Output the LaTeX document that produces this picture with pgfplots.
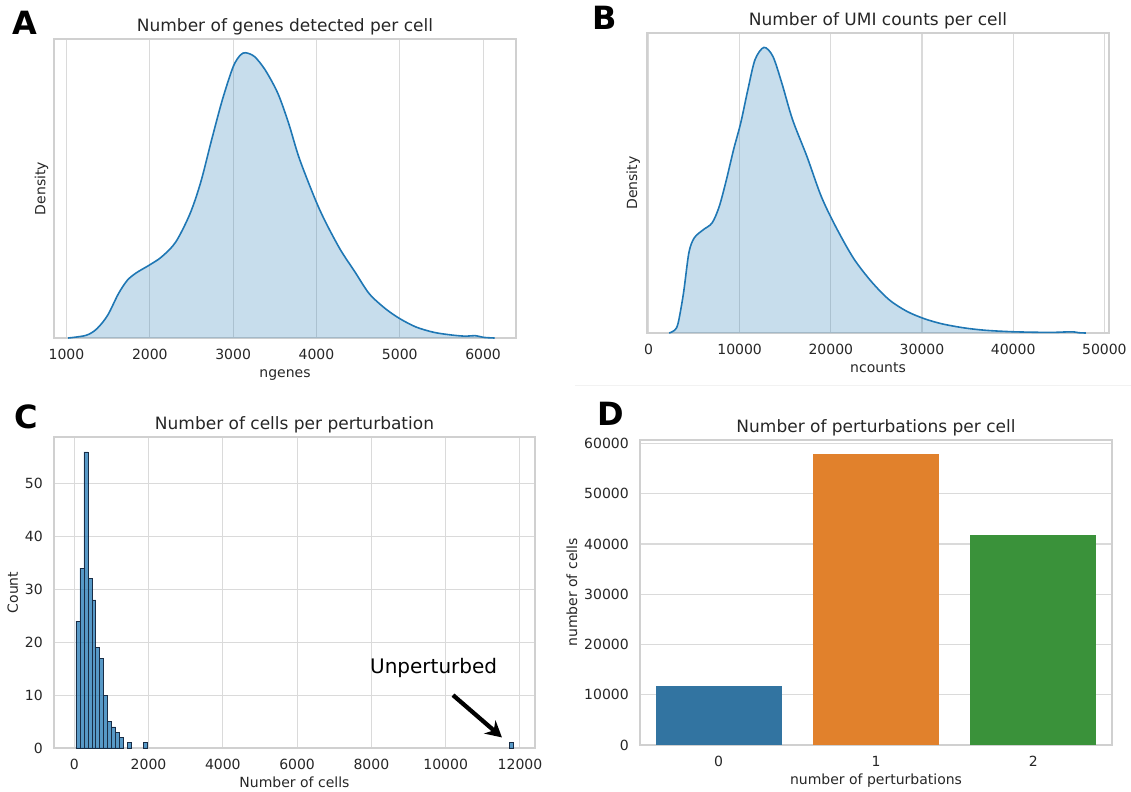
\documentclass[border=0pt]{standalone}
\usepackage{fontspec}
\setmainfont{DejaVu Sans}
\usepackage{pgfplots}
\usepackage{pgfplotstable}
\pgfplotsset{compat=1.18}
\usetikzlibrary{arrows.meta}

\definecolor{c0}{RGB}{31,119,180}
\definecolor{bar0}{RGB}{50,116,161}
\definecolor{bar1}{RGB}{225,129,44}
\definecolor{bar2}{RGB}{58,146,58}
\definecolor{framec}{RGB}{208,208,208}
\definecolor{gridc}{RGB}{218,218,218}
\definecolor{txt}{RGB}{38,38,38}
\definecolor{histedge}{RGB}{25,45,70}

% KDE of genes per cell (density normalised so the axis top is 1)
\pgfplotstableread{
x y
1020 0
1236 0.009
1365 0.031
1494 0.076
1623 0.148
1730 0.193
1838 0.218
1989 0.243
2140 0.271
2311 0.321
2483 0.416
2612 0.522
2741 0.662
2870 0.796
3000 0.907
3086 0.946
3150 0.954
3257 0.941
3386 0.896
3537 0.818
3666 0.718
3795 0.600
3989 0.461
4118 0.383
4290 0.294
4462 0.221
4634 0.148
4828 0.098
4999 0.065
5193 0.037
5408 0.019
5622 0.010
5794 0.006
5901 0.008
6009 0.002
6138 0
}\kdeA

% KDE of UMI counts per cell
\pgfplotstableread{
x y
2275 0
2863 0.009
3255 0.033
3843 0.133
4431 0.267
5020 0.317
6000 0.344
6980 0.367
7765 0.422
8549 0.511
9333 0.611
10118 0.700
10902 0.811
11686 0.911
12667 0.952
13647 0.922
14627 0.833
15804 0.711
17373 0.589
18941 0.456
20510 0.356
22471 0.250
24431 0.172
26392 0.111
28353 0.072
30314 0.047
32275 0.030
34627 0.017
36980 0.009
40118 0.004
44039 0.002
46392 0.004
47176 0.001
47961 0
}\kdeB

% histogram: bin centres (width 107) and counts
\pgfplotstableread{
x n
98.5 24
205.5 34
312.5 56
419.5 32
526.5 28
633.5 19
740.5 17
847.5 10
954.5 5
1061.5 4
1168.5 3
1275.5 2
1489.5 1
1917.5 1
11761.5 1
}\histC

\pgfplotsset{
  sb/.style={
    scale only axis,
    anchor=south west,
    axis line style={draw=framec, line width=1.1pt},
    grid style={draw=gridc, line width=0.8pt},
    major tick length=0pt,
    tick style={draw=none},
    ticklabel style={font=\fontsize{10.5}{12}\selectfont, text=txt},
    /pgf/number format/assume math mode=true,
    /pgf/number format/1000 sep={},
    scaled ticks=false,
    xticklabel style={anchor=base, yshift=-15.75pt},
    yticklabel style={anchor=east, inner sep=0pt, xshift=-8.25pt},
    label style={font=\fontsize{10.5}{12}\selectfont, text=txt},
    xlabel style={at={(axis description cs:0.5,0)}, anchor=base, yshift=-29.25pt},
    ylabel style={anchor=base},
    title style={at={(axis description cs:0.5,1)}, anchor=base,
      font=\fontsize{12.75}{14}\selectfont, text=txt},
  },
}

\begin{document}
\begin{tikzpicture}
\useasboundingbox (0,0) rectangle (848.25pt,-594pt);
\draw[gray!10, line width=0.75pt] (431.25pt,-288.75pt) -- (848.25pt,-288.75pt);

% ---- A
\begin{axis}[sb, at={(40.5pt,-253.5pt)}, width=346.5pt, height=224.25pt,
  xmin=850, xmax=6395, ymin=0, ymax=1,
  xtick={1000,2000,...,6000}, ytick=\empty, xmajorgrids,
  title={Number of genes detected per cell}, xlabel={ngenes}, ylabel={Density},
  ylabel style={at={([xshift=-6.4pt]axis description cs:0,0.5)}}]
\addplot[draw=none, fill=c0, fill opacity=0.25, smooth] table {\kdeA} \closedcycle;
\addplot[c0, line width=1.2pt, smooth] table {\kdeA};
\end{axis}

% ---- B
\begin{axis}[sb, at={(485.25pt,-249.75pt)}, width=346.5pt, height=225pt,
  xmin=-160, xmax=50510, ymin=0, ymax=1,
  xtick={0,10000,...,50000}, ytick=\empty, xmajorgrids,
  title={Number of UMI counts per cell}, xlabel={ncounts}, ylabel={Density},
  ylabel style={at={([xshift=-7.5pt]axis description cs:0,0.5)}}]
\addplot[draw=none, fill=c0, fill opacity=0.25, smooth] table {\kdeB} \closedcycle;
\addplot[c0, line width=1.2pt, smooth] table {\kdeB};
\end{axis}

% ---- C
\begin{axis}[sb, at={(40.5pt,-561pt)}, width=360.75pt, height=233.25pt,
  xmin=-545, xmax=12405, ymin=0, ymax=58.8,
  xtick={0,2000,...,12000}, ytick={0,10,...,50}, xmajorgrids, ymajorgrids,
  title={Number of cells per perturbation}, xlabel={Number of cells}, ylabel={Count},
  ylabel style={at={([xshift=-27pt]axis description cs:0,0.5)}}]
\addplot[ybar, bar width=107, bar shift=0pt, fill=c0, fill opacity=0.75,
  draw=histedge, line width=0.45pt] table[x=x, y=n] {\histC};
\node[anchor=base west, inner sep=0pt, font=\fontsize{15}{17}\selectfont]
  at (axis cs:7960,14.1) {Unperturbed};
\draw[line width=3.2pt, -{Stealth[length=12pt, width=13pt]}]
  (axis cs:10197,10.0) -- (axis cs:11515,2.0);
\end{axis}

% ---- D
\begin{axis}[sb, at={(480pt,-558.75pt)}, width=354pt, height=228.75pt,
  xmin=-0.5, xmax=2.5, ymin=0, ymax=60700,
  xtick={0,1,2}, ytick={0,10000,...,60000}, ymajorgrids,
  title={Number of perturbations per cell}, xlabel={number of perturbations},
  ylabel={number of cells},
  ylabel style={at={([xshift=-47.25pt]axis description cs:0,0.5)}}]
\addplot[ybar, bar width=0.8, bar shift=0pt, fill=bar0, draw=none] coordinates {(0,11800)};
\addplot[ybar, bar width=0.8, bar shift=0pt, fill=bar1, draw=none] coordinates {(1,57880)};
\addplot[ybar, bar width=0.8, bar shift=0pt, fill=bar2, draw=none] coordinates {(2,41700)};
\end{axis}

% panel letters
\node[anchor=base west, inner sep=0pt, font=\fontsize{24}{26}\selectfont\bfseries] at (9.4pt,-26.25pt) {A};
\node[anchor=base west, inner sep=0pt, font=\fontsize{24}{26}\selectfont\bfseries] at (444pt,-22.5pt) {B};
\node[anchor=base west, inner sep=0pt, font=\fontsize{24}{26}\selectfont\bfseries] at (10.5pt,-321pt) {C};
\node[anchor=base west, inner sep=0pt, font=\fontsize{24}{26}\selectfont\bfseries] at (447.75pt,-318.75pt) {D};
\end{tikzpicture}
\end{document}
